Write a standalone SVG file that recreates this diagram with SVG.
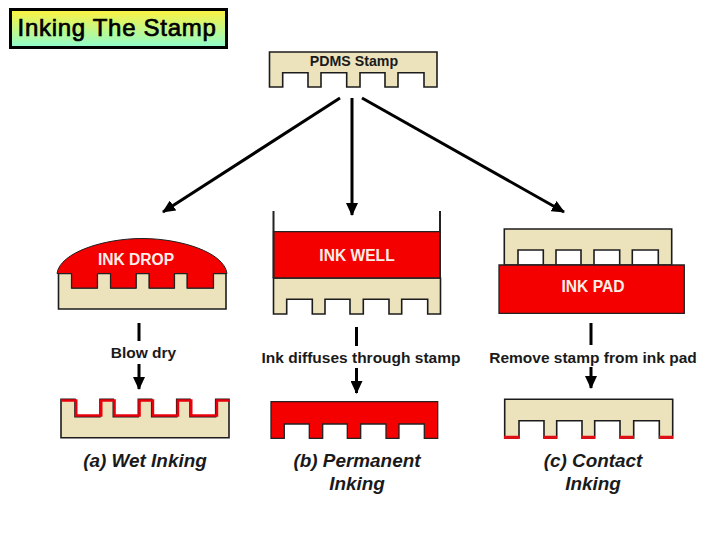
<svg xmlns="http://www.w3.org/2000/svg" width="720" height="540" viewBox="0 0 720 540">
<defs>
<linearGradient id="tg" x1="0" y1="0" x2="0" y2="1"><stop offset="0" stop-color="#fff23c"/><stop offset="1" stop-color="#8dfccf"/></linearGradient>
<marker id="ah" markerUnits="userSpaceOnUse" markerWidth="14" markerHeight="12" refX="12" refY="6" orient="auto"><path d="M0 0L13 6L0 12Z" fill="#000"/></marker>
</defs>
<style>
text{font-family:"Liberation Sans",Arial,sans-serif;text-anchor:middle}
.st{fill:#ece3bd;stroke:#1c1c1c;stroke-width:1.6}
.ink{fill:#f50000;stroke:#222;stroke-width:1.3}
.lb{font-size:15.5px;font-weight:700;fill:#1a1a1a}
.w{font-size:15.6px;font-weight:700;fill:#fbeee6}
.cap{font-size:18.9px;font-weight:700;font-style:italic;fill:#1a1a1a}
.ln{stroke:#000;stroke-width:3;fill:none}
.red{stroke:#e8000c;stroke-width:2.6;fill:none}
</style>
<rect width="720" height="540" fill="#fff"/>
<g id="title"><rect x="10.500" y="9.500" width="216" height="38" fill="url(#tg)" stroke="#000" stroke-width="3"/><text x="117" y="36" font-size="24" style="letter-spacing:.7px" fill="#000" stroke="#000" stroke-width=".7">Inking The Stamp</text></g>
<g id="connectors">
<path class="ln" d="M340 98L163 212" marker-end="url(#ah)"/>
<path class="ln" d="M352 98V215" marker-end="url(#ah)"/>
<path class="ln" d="M362 98L564 212" marker-end="url(#ah)"/>
<path class="ln" d="M139 323V341M139 364V389" marker-end="url(#ah)"/>
<path class="ln" d="M356.500 327V346M356.500 368V393" marker-end="url(#ah)"/>
<path class="ln" d="M591 323V345M591 367V388" marker-end="url(#ah)"/>
</g>
<g id="pdms-stamp"><path class="st" d="M269.500 52H437V87H424V72.700H398V87H385V72.700H360V87H346.700V72.700H321V87H308V72.700H282.700V87H269.500Z"/><text class="lb" x="354" y="65.500" style="font-size:14.200px">PDMS Stamp</text></g>
<g id="ink-drop">
<path class="st" d="M58.500 273.500H71.700V288H97.300V273.500H110.700V288H136V273.500H149.300V288H174.300V273.500H187.300V288H213.300V273.500H226V309H58.500Z"/>
<path d="M57 273.500C60 252 105 238.500 142 238.500C180 238.500 224 252 227 273.500H213.300V288H187.300V273.500H174.300V288H149.300V273.500H136V288H110.700V273.500H97.300V288H71.700V273.500Z" fill="#f50000" stroke="#222" stroke-width="1"/>
<text class="w" x="136" y="265">INK DROP</text>
</g>
<g id="ink-well">
<path class="st" d="M273.500 278H440.500V314H427.700V299.300H401.700V314H389V299.300H363.300V314H350V299.300H325V314H312.300V299.300H286.700V314H273.500Z"/>
<path class="ink" d="M273.500 231.700H440V278H273.500Z"/>
<path d="M273.500 211V278M440 211V278" stroke="#222" stroke-width="2" fill="none"/>
<text class="w" x="357" y="261">INK WELL</text>
</g>
<g id="ink-pad">
<path class="st" d="M504.300 229H671.700V265H504.300Z"/>
<path d="M518 265V250H543.300V265ZM556 265V250H581V265ZM594 265V250H619.700V265ZM632.300 265V250H658.300V265Z" fill="#fff" stroke="#1c1c1c" stroke-width="1.600"/>
<path class="ink" d="M499 265H684.300V313.300H499Z" stroke-width="1.800"/>
<text class="w" x="593" y="292">INK PAD</text>
</g>
<text class="lb" x="143.500" y="358">Blow dry</text>
<text class="lb" x="361" y="363">Ink diffuses through stamp</text>
<text class="lb" x="593" y="363">Remove stamp from ink pad</text>
<g id="wet-inked">
<path class="st" d="M61 399.300H75V416.700H100V399.300H113.300V416.700H138.300V399.300H151.700V416.700H176.700V399.300H190V416.700H215.700V399.300H229V437.700H61Z"/>
<path class="red" d="M61 400.500H76.200V415.500H101.200V400.500H114.500V415.500H139.500V400.500H152.900V415.500H177.900V400.500H191.200V415.500H216.900V400.500H230"/>
</g>
<g id="permanent-inked"><path class="ink" d="M271 401.700H437.700V438.300H424.300V424H399V438.300H386V424H360.700V438.300H347.300V424H322.700V438.300H309.300V424H284.300V438.300H271Z"/></g>
<g id="contact-inked">
<path class="st" d="M504.700 399.300H672.700V438H659.300V420.700H633.700V438H620V420.700H594.700V438H582V420.700H556.700V438H544V420.700H519V438H504.700Z"/>
<path d="M504 435.700H519V439H504ZM543.500 435.700H557V439H543.500ZM581 435.700H595V439H581ZM619.500 435.700H634V439H619.500ZM659 435.700H673V439H659Z" fill="#dc0f14"/>
</g>
<g id="captions">
<text class="cap" x="145" y="467">(a) Wet Inking</text>
<text class="cap" x="357" y="467">(b) Permanent</text>
<text class="cap" x="357" y="490">Inking</text>
<text class="cap" x="593" y="467">(c) Contact</text>
<text class="cap" x="593" y="490">Inking</text>
</g>
</svg>
